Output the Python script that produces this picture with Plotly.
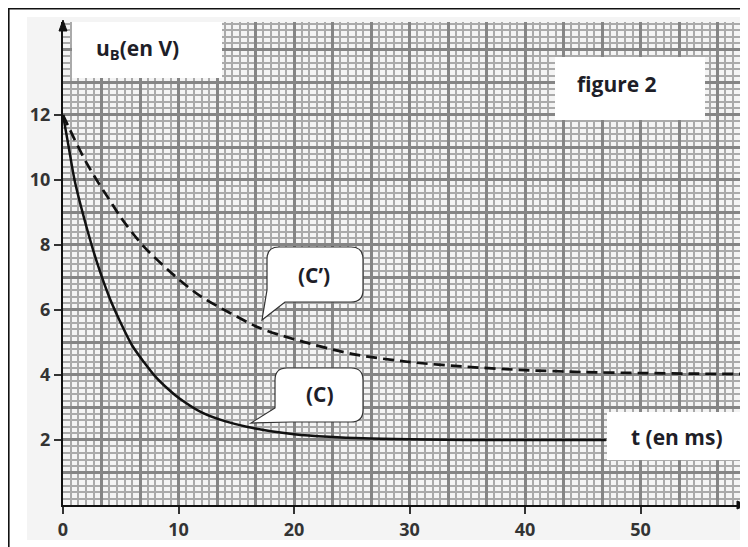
import plotly.graph_objects as go

# ---- data ----
t_C = [0, 0.5, 1, 2, 3, 4, 5, 6, 7, 8, 9, 10, 12, 14, 16, 18, 20, 23, 26, 30, 35, 47]
u_C = [12, 11.0, 10.0, 8.6, 7.4, 6.4, 5.6, 4.9, 4.4, 3.95, 3.6, 3.3, 2.85, 2.58, 2.4, 2.27, 2.18, 2.1, 2.05, 2.02, 2.0, 2.0]

t_Cp = [0, 1, 2, 3, 4, 5, 7, 10, 12, 14.5, 17, 20, 25, 30, 35, 40, 45, 50, 55, 59.3]
u_Cp = [12, 11.25, 10.55, 9.95, 9.4, 8.85, 7.95, 6.95, 6.4, 5.9, 5.45, 5.1, 4.65, 4.4, 4.25, 4.15, 4.09, 4.06, 4.04, 4.03]

x_ticks = [0, 10, 20, 30, 40, 50]
y_ticks = [2, 4, 6, 8, 10, 12]
x_range = [0, 59.3]
y_range = [0, 14.86]

# ---- layout geometry (page pixels; the page body has an 8px margin) ----
OFF = 8
W, H = 748 - OFF, 547 - OFF
ML, MR, MT, MB = 63 - OFF, 0, 22 - OFF, 42
PW = W - ML - MR
PH = H - MT - MB


def px(x):
    return (x - OFF - ML) / PW


def py(y):
    return (H - MB - (y - OFF)) / PH


def P(x, y):
    return f"{px(x):.5f},{py(y):.5f}"


def bubble(L, R, T, B, r, wedge):
    (ax, ay), (tx, ty), (bx, by) = wedge
    d = f"M {P(L + r, T)} L {P(R - r, T)} Q {P(R, T)} {P(R, T + r)} "
    d += f"L {P(R, B - r)} Q {P(R, B)} {P(R - r, B)} L {P(bx, by)} "
    d += f"L {P(tx, ty)} L {P(ax, ay)} L {P(L, T + r)} Q {P(L, T)} {P(L + r, T)} Z"
    return d


TXT = "#1e1e28"
FONT = "Open Sans"

fig = go.Figure()

# invisible trace for the graph-paper grid axes
fig.add_trace(go.Scatter(x=[None], y=[None], xaxis="x2", yaxis="y2", showlegend=False, hoverinfo="skip"))

fig.add_trace(go.Scatter(
    x=t_Cp, y=u_Cp, mode="lines",
    line=dict(color="#111111", width=2.7, dash="11px,6px", shape="spline", smoothing=0.8),
    showlegend=False, hoverinfo="skip"))
fig.add_trace(go.Scatter(
    x=t_C, y=u_C, mode="lines",
    line=dict(color="#111111", width=2.5, shape="spline", smoothing=0.8),
    showlegend=False, hoverinfo="skip"))

shapes = []
# outer frame and light grey page
shapes.append(dict(type="rect", xref="paper", yref="paper", layer="below",
                   x0=px(27), x1=px(770), y0=py(540), y1=py(17),
                   fillcolor="#f4f4f4", line=dict(width=0)))
shapes.append(dict(type="rect", xref="paper", yref="paper", layer="below",
                   x0=px(8.8), x1=px(780), y0=py(580), y1=py(8.8),
                   fillcolor="rgba(0,0,0,0)", line=dict(color="#111111", width=1.6)))
# white text boxes
for (L, R, T, B) in [(72, 222, 22, 78), (555, 705, 57, 120), (607, 748, 412, 460)]:
    shapes.append(dict(type="rect", xref="paper", yref="paper", layer="above",
                       x0=px(L), x1=px(R), y0=py(B), y1=py(T),
                       fillcolor="white", line=dict(width=0)))
# callout bubbles
shapes.append(dict(type="path", xref="paper", yref="paper", layer="above",
                   path=bubble(267, 363, 247, 302, 12, ((267, 290), (262, 320), (285, 302))),
                   fillcolor="white", line=dict(color="#333333", width=1.2)))
shapes.append(dict(type="path", xref="paper", yref="paper", layer="above",
                   path=bubble(275, 363, 368, 422, 12, ((275, 408), (251, 423), (291, 422))),
                   fillcolor="white", line=dict(color="#333333", width=1.2)))
# axis arrows
shapes.append(dict(type="path", xref="paper", yref="paper", layer="above",
                   path=f"M {P(747, 505)} L {P(737, 501)} L {P(737, 509)} Z",
                   fillcolor="#111111", line=dict(color="#111111", width=1)))
shapes.append(dict(type="path", xref="paper", yref="paper", layer="above",
                   path=f"M {P(63, 20)} L {P(59, 31)} L {P(67, 31)} Z",
                   fillcolor="#111111", line=dict(color="#111111", width=1)))

annotations = [
    dict(text="u<sub>B</sub>(en V)", x=px(137), y=py(49)),
    dict(text="figure 2", x=px(617), y=py(84)),
    dict(text="t (en ms)", x=px(677), y=py(437)),
    dict(text="(C\u2019)", x=px(314), y=py(275)),
    dict(text="(C)", x=px(320), y=py(394)),
]
for a in annotations:
    a.update(xref="paper", yref="paper", showarrow=False, xanchor="center", yanchor="middle",
             font=dict(family=FONT, size=21, color=TXT, weight="bold"))

axis_common = dict(showline=True, linecolor="#111111", linewidth=2, zeroline=False,
                   showgrid=False, ticks="outside", ticklen=7, tickwidth=2, tickcolor="#333333",
                   tickfont=dict(family=FONT, size=18, color="#333333", weight="bold"),
                   mirror=False)

grid_major = "#858585"
grid_minor = "#aaaaaa"

fig.update_layout(
    width=W, height=H,
    margin=dict(l=ML, r=MR, t=MT, b=MB, pad=0),
    paper_bgcolor="white", plot_bgcolor="white",
    xaxis=dict(range=x_range, tickmode="array", tickvals=x_ticks, **axis_common),
    yaxis=dict(range=y_range, tickmode="array", tickvals=y_ticks, **axis_common),
    xaxis2=dict(range=x_range, overlaying="x", anchor="y2", showgrid=True, dtick=10 / 3, tick0=0,
                gridcolor=grid_major, gridwidth=2.6, showticklabels=False, ticks="", zeroline=False,
                showline=False,
                minor=dict(dtick=10 / 15, tick0=0, showgrid=True, gridcolor=grid_minor, gridwidth=1.9)),
    yaxis2=dict(range=y_range, overlaying="y", anchor="x2", showgrid=True, dtick=1, tick0=0,
                gridcolor=grid_major, gridwidth=2.6, showticklabels=False, ticks="", zeroline=False,
                showline=False,
                minor=dict(dtick=0.2, tick0=0, showgrid=True, gridcolor=grid_minor, gridwidth=1.9)),
    shapes=shapes,
    annotations=annotations,
    showlegend=False,
)

fig.write_html("out.html")
